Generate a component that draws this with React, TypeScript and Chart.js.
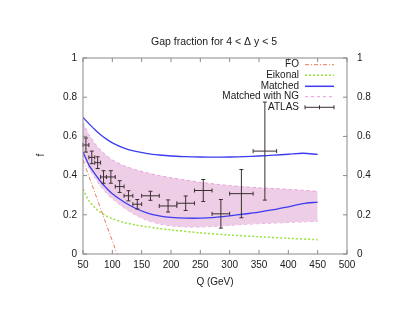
import React, { useEffect, useRef } from 'react';
import { Chart, registerables } from 'chart.js';

Chart.register(...registerables);

// ---- data ----
const curveQ = [50, 60, 70, 80, 90, 100, 120, 140, 160, 180, 200, 225, 250, 275, 300, 325, 350, 375, 400, 425, 450];
const matchedUpper = [0.697, 0.665, 0.635, 0.608, 0.586, 0.567, 0.540, 0.523, 0.512, 0.505, 0.500, 0.497, 0.495, 0.494, 0.495, 0.497, 0.500, 0.504, 0.509, 0.514, 0.508];
const matchedLower = [0.520, 0.455, 0.410, 0.370, 0.336, 0.307, 0.265, 0.232, 0.209, 0.195, 0.187, 0.183, 0.183, 0.187, 0.195, 0.204, 0.214, 0.226, 0.241, 0.257, 0.265];
const ngUpper = [0.670, 0.610, 0.565, 0.530, 0.502, 0.480, 0.450, 0.430, 0.414, 0.400, 0.389, 0.377, 0.366, 0.357, 0.349, 0.343, 0.338, 0.334, 0.330, 0.325, 0.320];
const ngLower = [0.505, 0.440, 0.390, 0.346, 0.311, 0.282, 0.236, 0.198, 0.171, 0.154, 0.144, 0.138, 0.138, 0.141, 0.146, 0.151, 0.155, 0.158, 0.161, 0.164, 0.167];
const eikonalQ = [50, 60, 70, 80, 90, 100, 120, 140, 160, 180, 200, 250, 300, 350, 400, 450];
const eikonal = [0.330, 0.272, 0.237, 0.212, 0.194, 0.180, 0.161, 0.148, 0.138, 0.130, 0.123, 0.108, 0.097, 0.088, 0.080, 0.073];
const foQ = [50, 80, 110];
const fo = [0.48, 0.232, -0.016];
const atlasQ = [55, 65, 75, 85, 97.5, 112.5, 127.5, 142.5, 165, 195, 225, 255, 285, 320, 360];
const atlasQLow = [50, 60, 70, 80, 90, 105, 120, 135, 150, 180, 210, 240, 270, 300, 340];
const atlasQHigh = [60, 70, 80, 90, 105, 120, 135, 150, 180, 210, 240, 270, 300, 340, 380];
const atlasF = [0.556, 0.493, 0.466, 0.393, 0.393, 0.344, 0.297, 0.254, 0.297, 0.245, 0.259, 0.324, 0.205, 0.308, 0.525];
const atlasErr = [0.036, 0.032, 0.030, 0.032, 0.032, 0.030, 0.026, 0.024, 0.023, 0.031, 0.037, 0.056, 0.073, 0.123, 0.25];
const xTicks = [50, 100, 150, 200, 250, 300, 350, 400, 450, 500];
const yTicks = [0, 0.2, 0.4, 0.6, 0.8, 1];

const TITLE = 'Gap fraction for 4 < \u0394 y < 5';
const XLABEL = 'Q (GeV)';
const YLABEL = 'f';
const FONT = '"Liberation Sans", Arial, Helvetica, sans-serif';

const COL_FO = '#ee7755';
const COL_EIK = '#9be03a';
const COL_MATCH = '#3c3cf0';
const COL_NG = '#ec9ade';
const COL_FILL = '#eecee6';
const COL_ATLAS = '#3a3030';

const legendItems = [
  { label: 'FO', color: COL_FO, dash: [4, 2, 1, 2], width: 1, kind: 'line' },
  { label: 'Eikonal', color: COL_EIK, dash: [2, 2], width: 1.5, kind: 'line' },
  { label: 'Matched', color: COL_MATCH, dash: [], width: 1.5, kind: 'line' },
  { label: 'Matched with NG', color: COL_NG, dash: [3, 3], width: 1, kind: 'line' },
  { label: 'ATLAS', color: COL_ATLAS, dash: [], width: 1, kind: 'err' },
];

const zip = (xs: number[], ys: number[]) => xs.map((x, i) => ({ x, y: ys[i] }));
const fmt = (v: any) => String(Number(v));

const decorPlugin = {
  id: 'decor',
  afterDatasetsDraw(chart: any) {
    const { ctx, scales } = chart;
    const xs = scales.x;
    const ys = scales.y;
    ctx.save();
    ctx.strokeStyle = COL_ATLAS;
    ctx.lineWidth = 1;
    ctx.setLineDash([]);
    for (let i = 0; i < atlasQ.length; i++) {
      const cx = xs.getPixelForValue(atlasQ[i]);
      const cy = ys.getPixelForValue(atlasF[i]);
      const y1 = ys.getPixelForValue(atlasF[i] + atlasErr[i]);
      const y2 = ys.getPixelForValue(atlasF[i] - atlasErr[i]);
      const x1 = xs.getPixelForValue(atlasQLow[i]);
      const x2 = xs.getPixelForValue(atlasQHigh[i]);
      ctx.beginPath();
      ctx.moveTo(cx, y1); ctx.lineTo(cx, y2);
      ctx.moveTo(x1, cy); ctx.lineTo(x2, cy);
      ctx.moveTo(cx - 2, y1); ctx.lineTo(cx + 2, y1);
      ctx.moveTo(cx - 2, y2); ctx.lineTo(cx + 2, y2);
      ctx.moveTo(x1, cy - 2); ctx.lineTo(x1, cy + 2);
      ctx.moveTo(x2, cy - 2); ctx.lineTo(x2, cy + 2);
      ctx.stroke();
    }
    ctx.restore();
  },
  afterDraw(chart: any) {
    const { ctx, chartArea, scales } = chart;
    const { left, right, top, bottom } = chartArea;
    const xs = scales.x;
    const ys = scales.y;
    ctx.save();
    ctx.strokeStyle = '#8a8a8a';
    ctx.lineWidth = 1;
    ctx.setLineDash([]);
    ctx.strokeRect(left, top, right - left, bottom - top);
    ctx.beginPath();
    const tl = 4;
    xTicks.forEach((v) => {
      const px = xs.getPixelForValue(v);
      ctx.moveTo(px, bottom); ctx.lineTo(px, bottom - tl);
      ctx.moveTo(px, top); ctx.lineTo(px, top + tl);
    });
    yTicks.forEach((v) => {
      const py = ys.getPixelForValue(v);
      ctx.moveTo(left, py); ctx.lineTo(left + tl, py);
      ctx.moveTo(right, py); ctx.lineTo(right - tl, py);
    });
    ctx.stroke();

    ctx.fillStyle = '#1a1a1a';
    ctx.font = `10.5px ${FONT}`;
    ctx.textAlign = 'center';
    ctx.textBaseline = 'middle';
    ctx.fillText(TITLE, 214, 42);
    ctx.font = `10px ${FONT}`;
    ctx.fillText(XLABEL, 215, 282);
    ctx.save();
    ctx.translate(41, 155);
    ctx.rotate(-Math.PI / 2);
    ctx.fillText(YLABEL, 0, 0);
    ctx.restore();

    const rowY = [64.7, 75.3, 86.3, 96.7, 107.3];
    const textRight = 299;
    const sx1 = 305;
    const sx2 = 334;
    legendItems.forEach((it, i) => {
      const y = rowY[i];
      ctx.fillStyle = '#1a1a1a';
      ctx.textAlign = 'right';
      ctx.textBaseline = 'middle';
      ctx.fillText(it.label, textRight, y);
      ctx.strokeStyle = it.color;
      ctx.lineWidth = it.width;
      ctx.setLineDash(it.dash);
      ctx.beginPath();
      ctx.moveTo(sx1, y); ctx.lineTo(sx2, y);
      ctx.stroke();
      ctx.setLineDash([]);
      if (it.kind === 'err') {
        ctx.beginPath();
        const mx = (sx1 + sx2) / 2;
        ctx.moveTo(sx1, y - 2); ctx.lineTo(sx1, y + 2);
        ctx.moveTo(sx2, y - 2); ctx.lineTo(sx2, y + 2);
        ctx.moveTo(mx, y - 2); ctx.lineTo(mx, y + 2);
        ctx.stroke();
      }
    });
    ctx.restore();
  },
};

export default function App() {
  const ref = useRef<HTMLCanvasElement | null>(null);
  useEffect(() => {
    if (!ref.current) return;
    const lineDefaults = { pointRadius: 0, tension: 0.3, fill: false };
    const tickFont = { family: FONT, size: 10 };
    const chart = new Chart(ref.current, {
      type: 'line',
      data: {
        datasets: [
          { label: 'FO', data: zip(foQ, fo), borderColor: COL_FO, borderWidth: 1, borderDash: [4, 2, 1, 2], ...lineDefaults, tension: 0, order: 2 },
          { label: 'Eikonal', data: zip(eikonalQ, eikonal), borderColor: COL_EIK, borderWidth: 1.5, borderDash: [2, 2], ...lineDefaults, order: 2 },
          { label: 'Matched', data: zip(curveQ, matchedUpper), borderColor: COL_MATCH, borderWidth: 1.3, ...lineDefaults, order: 1 },
          { label: 'Matched lower', data: zip(curveQ, matchedLower), borderColor: COL_MATCH, borderWidth: 1.3, ...lineDefaults, order: 1 },
          {
            label: 'Matched with NG', data: zip(curveQ, ngUpper), borderColor: COL_NG, borderWidth: 1, borderDash: [3, 3],
            backgroundColor: COL_FILL, ...lineDefaults, fill: '+1', order: 5,
          },
          { label: 'NG lower', data: zip(curveQ, ngLower), borderColor: COL_NG, borderWidth: 1, borderDash: [3, 3], ...lineDefaults, order: 5 },
          { label: 'ATLAS', data: zip(atlasQ, atlasF), borderColor: COL_ATLAS, showLine: false, pointRadius: 0, order: 0 },
        ],
      },
      options: {
        animation: false,
        responsive: false,
        maintainAspectRatio: false,
        layout: { padding: { top: 58, left: 0, right: 0, bottom: 0 } },
        plugins: { legend: { display: false }, title: { display: false }, tooltip: { enabled: false } },
        scales: {
          x: {
            type: 'linear', min: 50, max: 500,
            grid: { display: false, drawTicks: false }, border: { display: false },
            afterBuildTicks: (s: any) => { s.ticks = xTicks.map((v) => ({ value: v })); },
            afterFit: (s: any) => { s.height = 64; },
            ticks: { padding: 5, maxRotation: 0, autoSkip: false, color: '#1a1a1a', font: tickFont, callback: fmt },
          },
          y: {
            type: 'linear', position: 'left', min: 0, max: 1,
            grid: { display: false, drawTicks: false }, border: { display: false },
            afterBuildTicks: (s: any) => { s.ticks = yTicks.map((v) => ({ value: v })); },
            afterFit: (s: any) => { s.width = 83; },
            ticks: { padding: 6, color: '#1a1a1a', font: tickFont, callback: fmt },
          },
          y2: {
            type: 'linear', position: 'right', min: 0, max: 1,
            grid: { display: false, drawTicks: false }, border: { display: false },
            afterBuildTicks: (s: any) => { s.ticks = yTicks.map((v) => ({ value: v })); },
            afterFit: (s: any) => { s.width = 64; },
            ticks: { padding: 10, color: '#1a1a1a', font: tickFont, callback: fmt },
          },
        },
      },
      plugins: [decorPlugin],
    } as any);
    return () => chart.destroy();
  }, []);

  return (
    <div style={{ position: 'absolute', left: 0, top: 0, width: 411, height: 318, background: '#fff' }}>
      <canvas ref={ref} width={411} height={318} style={{ width: 411, height: 318 }} />
    </div>
  );
}
